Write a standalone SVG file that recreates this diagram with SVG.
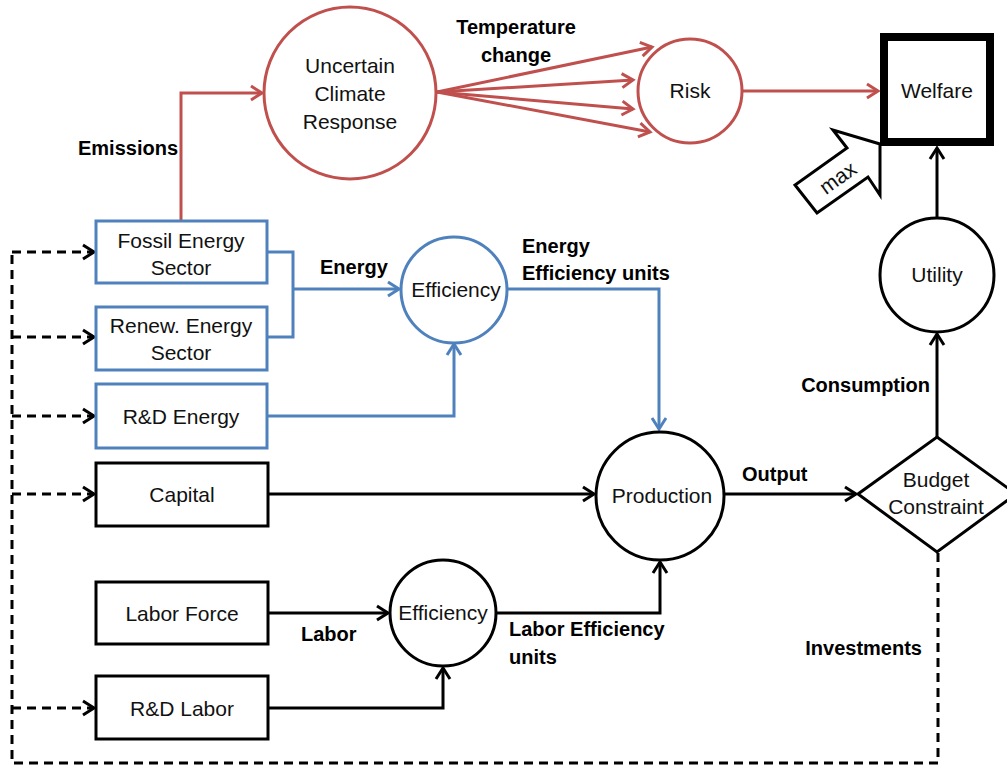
<svg xmlns="http://www.w3.org/2000/svg" width="1007" height="765" viewBox="0 0 1007 765">
<style>
.red{stroke:#C0504D;stroke-width:3;fill:none}
.blue{stroke:#4F81BD;stroke-width:3;fill:none}
.blk{stroke:#000;stroke-width:3;fill:none}
.dash{stroke:#000;stroke-width:3;fill:none;stroke-dasharray:9,6}
.nt{font-family:"Liberation Sans",Arial,sans-serif;font-size:21px;fill:#111;text-anchor:middle}
.lb{font-family:"Liberation Sans",Arial,sans-serif;font-size:20px;font-weight:bold;fill:#000}
.nodeR{stroke:#C0504D;stroke-width:3;fill:#fff}
.nodeB{stroke:#4F81BD;stroke-width:3;fill:#fff}
.nodeK{stroke:#000;stroke-width:3;fill:#fff}
</style>
<defs>
<marker id="ar" markerUnits="userSpaceOnUse" markerWidth="16" markerHeight="18" refX="12" refY="8" orient="auto" overflow="visible"><path d="M1,1 L12,8 L1,15" fill="none" stroke="#C0504D" stroke-width="3"/></marker>
<marker id="ab" markerUnits="userSpaceOnUse" markerWidth="16" markerHeight="18" refX="12" refY="8" orient="auto" overflow="visible"><path d="M1,1 L12,8 L1,15" fill="none" stroke="#4F81BD" stroke-width="3"/></marker>
<marker id="ak" markerUnits="userSpaceOnUse" markerWidth="16" markerHeight="18" refX="12" refY="8" orient="auto" overflow="visible"><path d="M1,1 L12,8 L1,15" fill="none" stroke="#000" stroke-width="3"/></marker>
</defs>
<rect width="1007" height="765" fill="#fff"/>
<g id="connectors">
<path class="red" d="M181,221 V93 H262" marker-end="url(#ar)"/>
<path class="red" d="M437,92 L652,47" marker-end="url(#ar)"/>
<path class="red" d="M437,92 L633,80" marker-end="url(#ar)"/>
<path class="red" d="M437,92 L633,109" marker-end="url(#ar)"/>
<path class="red" d="M437,92 L650,132" marker-end="url(#ar)"/>
<path class="red" d="M742,91 H878" marker-end="url(#ar)"/>
<path class="blue" d="M267,252 H293 V337 H267"/>
<path class="blue" d="M293,289 H399" marker-end="url(#ab)"/>
<path class="blue" d="M267,416 H454 V344" marker-end="url(#ab)"/>
<path class="blue" d="M506,289 H659 V429" marker-end="url(#ab)"/>
<path class="blk" d="M268,494 H594" marker-end="url(#ak)"/>
<path class="blk" d="M268,613 H388" marker-end="url(#ak)"/>
<path class="blk" d="M268,708 H443 V668" marker-end="url(#ak)"/>
<path class="blk" d="M496,613 H660 V562" marker-end="url(#ak)"/>
<path class="blk" d="M724,494 H856" marker-end="url(#ak)"/>
<path class="blk" d="M937,437 V334" marker-end="url(#ak)"/>
<path class="blk" d="M937,218 V148" marker-end="url(#ak)"/>
<path class="dash" d="M938,553 V763 H12 V252"/>
<path class="dash" d="M12,252 H94" marker-end="url(#ak)"/>
<path class="dash" d="M12,337 H94" marker-end="url(#ak)"/>
<path class="dash" d="M12,416 H94" marker-end="url(#ak)"/>
<path class="dash" d="M12,494 H94" marker-end="url(#ak)"/>
<path class="dash" d="M12,708 H94" marker-end="url(#ak)"/>
</g>
<g id="ucr"><circle class="nodeR" cx="350" cy="93" r="86"/><text class="nt" x="350" y="73">Uncertain</text><text class="nt" x="350" y="101">Climate</text><text class="nt" x="350" y="129">Response</text></g>
<g id="risk"><circle class="nodeR" cx="690" cy="91" r="52"/><text class="nt" x="690" y="98">Risk</text></g>
<g id="welfare"><rect x="884" y="37" width="106" height="105" fill="#fff" stroke="#000" stroke-width="8"/><text class="nt" x="937" y="98">Welfare</text></g>
<g id="max"><polygon points="880,144 833,130 847,148 795,185 817,213 868,177 880,195" fill="#fff" stroke="#000" stroke-width="3" stroke-linejoin="miter"/><text class="nt" x="838" y="185" font-size="19" transform="rotate(-36 838 178)">max</text></g>
<g id="fossil"><rect class="nodeB" x="96" y="221" width="171" height="62"/><text class="nt" x="181" y="248">Fossil Energy</text><text class="nt" x="181" y="275">Sector</text></g>
<g id="renew"><rect class="nodeB" x="96" y="307" width="171" height="63"/><text class="nt" x="181" y="333">Renew. Energy</text><text class="nt" x="181" y="360">Sector</text></g>
<g id="rdenergy"><rect class="nodeB" x="96" y="384" width="171" height="64"/><text class="nt" x="181" y="424">R&amp;D Energy</text></g>
<g id="effE"><circle class="nodeB" cx="454" cy="290" r="53"/><text class="nt" x="456" y="297">Efficiency</text></g>
<g id="capital"><rect class="nodeK" x="96" y="463" width="172" height="63"/><text class="nt" x="182" y="502">Capital</text></g>
<g id="laborforce"><rect class="nodeK" x="96" y="582" width="172" height="62"/><text class="nt" x="182" y="621">Labor Force</text></g>
<g id="rdlabor"><rect class="nodeK" x="96" y="676" width="172" height="63"/><text class="nt" x="182" y="716">R&amp;D Labor</text></g>
<g id="effL"><circle class="nodeK" cx="443" cy="613" r="53"/><text class="nt" x="443" y="620">Efficiency</text></g>
<g id="production"><circle class="nodeK" cx="660" cy="496" r="64"/><text class="nt" x="662" y="503">Production</text></g>
<g id="budget"><polygon class="nodeK" points="858,494 937,437 1016,494 937,552"/><text class="nt" x="936" y="487">Budget</text><text class="nt" x="936" y="514">Constraint</text></g>
<g id="utility"><circle class="nodeK" cx="937" cy="275" r="57"/><text class="nt" x="937" y="282">Utility</text></g>
<g id="labels">
<text class="lb" x="516" y="34" text-anchor="middle">Temperature</text>
<text class="lb" x="516" y="62" text-anchor="middle">change</text>
<text class="lb" x="78" y="155">Emissions</text>
<text class="lb" x="320" y="274">Energy</text>
<text class="lb" x="522" y="253">Energy</text>
<text class="lb" x="522" y="280">Efficiency units</text>
<text class="lb" x="742" y="481">Output</text>
<text class="lb" x="930" y="392" text-anchor="end">Consumption</text>
<text class="lb" x="301" y="641">Labor</text>
<text class="lb" x="509" y="636">Labor Efficiency</text>
<text class="lb" x="509" y="664">units</text>
<text class="lb" x="922" y="655" text-anchor="end">Investments</text>
</g>
</svg>
